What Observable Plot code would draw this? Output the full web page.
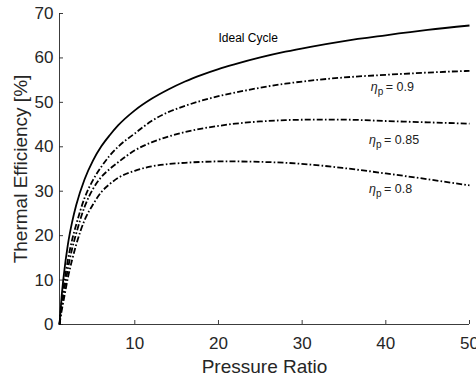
<!DOCTYPE html>
<html><head><meta charset="utf-8">
<script src="https://cdn.jsdelivr.net/npm/d3@7"></script>
<script src="https://cdn.jsdelivr.net/npm/@observablehq/plot@0.6"></script>
<style>body{margin:0;background:#fff}svg{display:block}</style>
</head><body><div id="chart"></div>
<script>
const pressureRatio = [1, 1.25, 1.5, 2, 2.5, 3, 4, 5, 6, 7, 8, 10, 12, 14, 16, 18, 20, 22, 25, 28, 31, 35, 40, 45, 50];
const idealCycle = [0, 6.2, 10.9, 18.0, 23.0, 26.9, 32.7, 36.9, 40.1, 42.6, 44.8, 48.2, 50.8, 52.9, 54.7, 56.2, 57.5, 58.6, 60.1, 61.4, 62.5, 63.8, 65.1, 66.3, 67.3];
const etaP090 = [0, 4.8, 8.5, 14.5, 19.0, 22.5, 28.5, 32.5, 35.5, 38.0, 40.0, 43.0, 45.8, 47.8, 49.2, 50.4, 51.4, 52.2, 53.3, 54.2, 54.9, 55.6, 56.2, 56.7, 57.1];
const etaP085 = [0, 3.9, 7.0, 12.5, 17.0, 20.5, 26.5, 30.5, 33.2, 35.0, 36.5, 39.2, 41.0, 42.3, 43.3, 44.1, 44.7, 45.2, 45.7, 46.0, 46.1, 46.1, 45.8, 45.5, 45.2];
const etaP080 = [0, 3.0, 5.5, 10.5, 14.5, 18.0, 23.5, 27.0, 29.8, 31.6, 33.0, 34.6, 35.6, 36.1, 36.4, 36.6, 36.7, 36.7, 36.6, 36.4, 36.0, 35.2, 34.0, 32.7, 31.3];
const xTicks = [10, 20, 30, 40, 50];
const yTicks = [0, 10, 20, 30, 40, 50, 60, 70];
const xTitle = "Pressure Ratio";
const yTitle = "Thermal Efficiency [%]";
const idealLabel = {text: "Ideal Cycle", x: 20, y: 64.5};
const etaLabels = [
  {value: "= 0.9", x: 38.2, y: 53.5},
  {value: "= 0.85", x: 38.0, y: 41.5},
  {value: "= 0.8", x: 38.0, y: 30.6}
];

const toRows = (vals) => pressureRatio.map((r, i) => ({r, v: vals[i]}));
const font = "'Liberation Sans', Arial, Helvetica, sans-serif";
const axisColor = "#262626";
const dash = "6,2.2,1.6,2.2";

const chart = Plot.plot({
  width: 476,
  height: 381,
  marginTop: 13,
  marginBottom: 57,
  marginLeft: 59,
  marginRight: 7,
  style: {fontFamily: font, background: "#fff"},
  x: {domain: [1, 50]},
  y: {domain: [0, 70]},
  marks: [
    Plot.ruleY([0], {stroke: axisColor, strokeWidth: 0.9}),
    Plot.ruleX([1], {stroke: axisColor, strokeWidth: 0.9}),
    Plot.axisX(xTicks, {anchor: "bottom", tickSize: -4, tickPadding: 16, fontSize: 17, color: axisColor, label: null, strokeWidth: 0.9}),
    Plot.axisY(yTicks, {anchor: "left", tickSize: -4, tickPadding: 10, fontSize: 17, color: axisColor, label: null, strokeWidth: 0.9}),
    Plot.text([xTitle], {frameAnchor: "bottom", dy: 42, fontSize: 19, fill: axisColor, textAnchor: "middle", lineAnchor: "middle"}),
    Plot.text([yTitle], {frameAnchor: "left", dx: -39, rotate: -90, fontSize: 19, fill: axisColor, textAnchor: "middle", lineAnchor: "middle"}),
    Plot.line(toRows(idealCycle), {x: "r", y: "v", stroke: "#000", strokeWidth: 1.8, strokeLinecap: "butt", curve: "monotone-x"}),
    Plot.line(toRows(etaP090), {x: "r", y: "v", stroke: "#000", strokeWidth: 1.8, strokeLinecap: "butt", strokeDasharray: dash, curve: "monotone-x"}),
    Plot.line(toRows(etaP085), {x: "r", y: "v", stroke: "#000", strokeWidth: 1.8, strokeLinecap: "butt", strokeDasharray: dash, curve: "monotone-x"}),
    Plot.line(toRows(etaP080), {x: "r", y: "v", stroke: "#000", strokeWidth: 1.8, strokeLinecap: "butt", strokeDasharray: dash, curve: "monotone-x"}),
    Plot.text([idealLabel], {x: "x", y: "y", text: "text", textAnchor: "start", fontSize: 12, fill: "#000"}),
    Plot.text(etaLabels, {x: "x", y: "y", text: () => "η", textAnchor: "start", fontSize: 12.5, fontStyle: "italic", fill: "#222"}),
    Plot.text(etaLabels, {x: "x", y: "y", text: () => "p", textAnchor: "start", dx: 7, dy: 5, fontSize: 10, fill: "#222"}),
    Plot.text(etaLabels, {x: "x", y: "y", text: "value", textAnchor: "start", dx: 15, fontSize: 12.5, fill: "#222"})
  ]
});
document.getElementById("chart").appendChild(chart);
</script>
</body></html>
